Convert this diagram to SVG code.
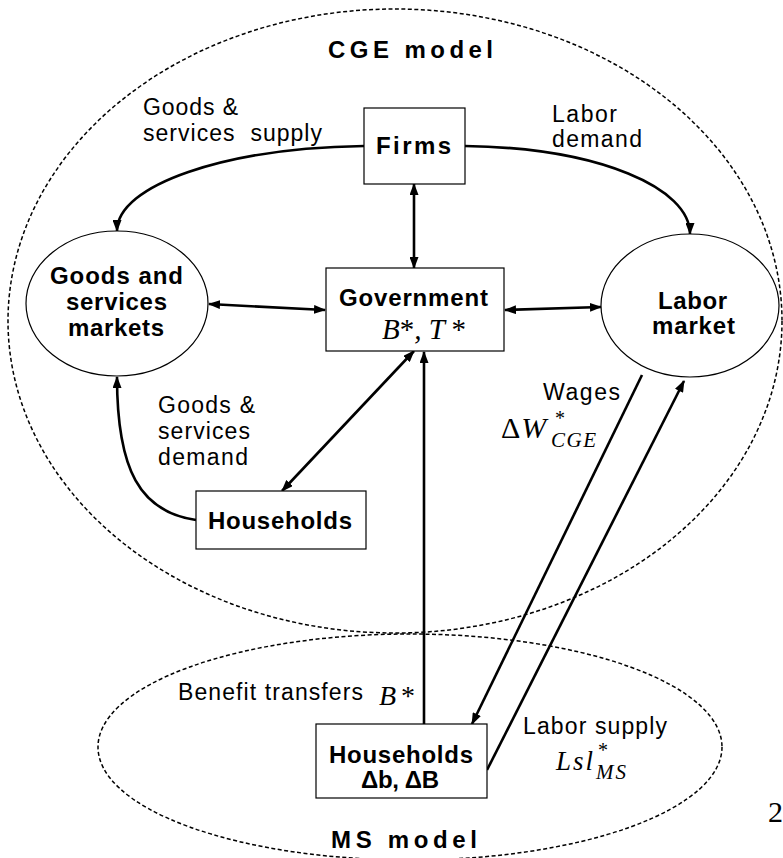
<svg xmlns="http://www.w3.org/2000/svg" width="783" height="858" viewBox="0 0 783 858">
<style>
.node{fill:#fff;stroke:#000;stroke-width:1.2}
.b{font-family:"Liberation Sans",Arial,sans-serif;font-weight:bold;font-size:24px;fill:#000}
.r{font-family:"Liberation Sans",Arial,sans-serif;font-size:23px;fill:#000}
.m{font-family:"Liberation Serif","Times New Roman",serif;font-style:italic;fill:#000}
.c{fill:none;stroke:#000;stroke-width:2.6}
.d{fill:none;stroke:#000;stroke-width:1.5;stroke-dasharray:4 2.5}
</style>
<defs>
<marker id="ah" markerUnits="userSpaceOnUse" markerWidth="12" markerHeight="9" refX="11" refY="4.5" orient="auto-start-reverse" viewBox="0 0 12 9">
<path d="M0,0 L12,4.5 L0,9 z" fill="#000"/>
</marker>
</defs>
<g id="regions">
<ellipse id="cge-region" class="d" cx="395" cy="321" rx="387" ry="312"/>
<ellipse id="ms-region" class="d" cx="410" cy="747" rx="312" ry="113"/>
<text class="b" x="410.5" y="58" text-anchor="middle" textLength="165" lengthAdjust="spacing" font-size="26">CGE model</text>
<text class="b" x="404" y="848" text-anchor="middle" textLength="146" lengthAdjust="spacing" font-size="26">MS model</text>
</g>
<g id="connectors">
<path class="c" d="M364,146 C225,148 117,185 117,231" marker-end="url(#ah)"/>
<path class="c" d="M465,146 C600,148 690,188 690,234" marker-end="url(#ah)"/>
<path class="c" d="M414,184 L414,268" marker-start="url(#ah)" marker-end="url(#ah)"/>
<path class="c" d="M209,304 L325,310" marker-start="url(#ah)" marker-end="url(#ah)"/>
<path class="c" d="M505,310 L601,307" marker-start="url(#ah)" marker-end="url(#ah)"/>
<path class="c" d="M414,351 L282,491" marker-start="url(#ah)" marker-end="url(#ah)"/>
<path class="c" d="M196,520 C140,512 117,470 117,377" marker-end="url(#ah)"/>
<path class="c" d="M424,724 L424,352" marker-end="url(#ah)"/>
<path class="c" d="M642,375 L472,724" marker-end="url(#ah)"/>
<path class="c" d="M487,770 L684,381" marker-end="url(#ah)"/>
</g>
<g id="labels">
<text class="r" x="143" y="115" textLength="95" lengthAdjust="spacing">Goods &amp;</text>
<text class="r" x="143" y="141" textLength="179" lengthAdjust="spacing" xml:space="preserve">services  supply</text>
<text class="r" x="552" y="122" textLength="65" lengthAdjust="spacing">Labor</text>
<text class="r" x="552" y="147" textLength="90" lengthAdjust="spacing">demand</text>
<text class="r" x="158" y="413" textLength="97" lengthAdjust="spacing">Goods &amp;</text>
<text class="r" x="158" y="439" textLength="92" lengthAdjust="spacing">services</text>
<text class="r" x="158" y="465" textLength="90" lengthAdjust="spacing">demand</text>
<text class="r" x="543" y="400" textLength="77" lengthAdjust="spacing">Wages</text>
<text class="m" x="501" y="438" font-size="30"><tspan style="font-style:normal">Δ</tspan><tspan dx="1">W</tspan></text>
<text class="m" x="555" y="425" font-size="20" style="font-style:normal">*</text>
<text class="m" x="551" y="447" font-size="21" letter-spacing="1.5">CGE</text>
<text class="r" x="178" y="700" textLength="185" lengthAdjust="spacing">Benefit transfers</text>
<text class="m" x="379" y="705" font-size="28">B<tspan dx="5" style="font-style:normal">*</tspan></text>
<text class="r" x="523" y="734" textLength="144" lengthAdjust="spacing">Labor supply</text>
<text class="m" x="556" y="770" font-size="27" letter-spacing="2">Lsl</text>
<text class="m" x="598" y="757" font-size="20" style="font-style:normal">*</text>
<text class="m" x="596" y="779" font-size="21" letter-spacing="2">MS</text>
<text x="768" y="822" font-family="'Liberation Serif','Times New Roman',serif" font-size="30">2</text>
</g>
<g id="firms">
<rect class="node" x="364" y="108" width="101" height="76"/>
<text class="b" x="413.5" y="154" text-anchor="middle" textLength="75" lengthAdjust="spacing">Firms</text>
</g>
<g id="goods-markets">
<ellipse class="node" cx="117" cy="303.5" rx="91" ry="72.5"/>
<text class="b" x="116.5" y="284" text-anchor="middle" textLength="133" lengthAdjust="spacing">Goods and</text>
<text class="b" x="116.5" y="310" text-anchor="middle" textLength="101" lengthAdjust="spacing">services</text>
<text class="b" x="116" y="336" text-anchor="middle" textLength="96" lengthAdjust="spacing">markets</text>
</g>
<g id="labor-market">
<ellipse class="node" cx="690" cy="305.5" rx="89" ry="71.5"/>
<text class="b" x="692.5" y="309" text-anchor="middle" textLength="69" lengthAdjust="spacing">Labor</text>
<text class="b" x="693.5" y="334" text-anchor="middle" textLength="83" lengthAdjust="spacing">market</text>
</g>
<g id="government">
<rect class="node" x="326" y="268" width="178" height="83"/>
<text class="b" x="413.5" y="306" text-anchor="middle" textLength="149" lengthAdjust="spacing" font-size="22">Government</text>
<text class="m" x="382" y="339" font-size="29">B<tspan style="font-style:normal">*</tspan>, T <tspan style="font-style:normal">*</tspan></text>
</g>
<g id="households-cge">
<rect class="node" x="196" y="491" width="170" height="58"/>
<text class="b" x="280" y="529" text-anchor="middle" textLength="144" lengthAdjust="spacing">Households</text>
</g>
<g id="households-ms">
<rect class="node" x="316" y="724" width="171" height="74"/>
<text class="b" x="401" y="763" text-anchor="middle" textLength="144" lengthAdjust="spacing">Households</text>
<text class="b" x="400" y="788" text-anchor="middle" textLength="78" lengthAdjust="spacing">Δb, ΔB</text>
</g>
</svg>
